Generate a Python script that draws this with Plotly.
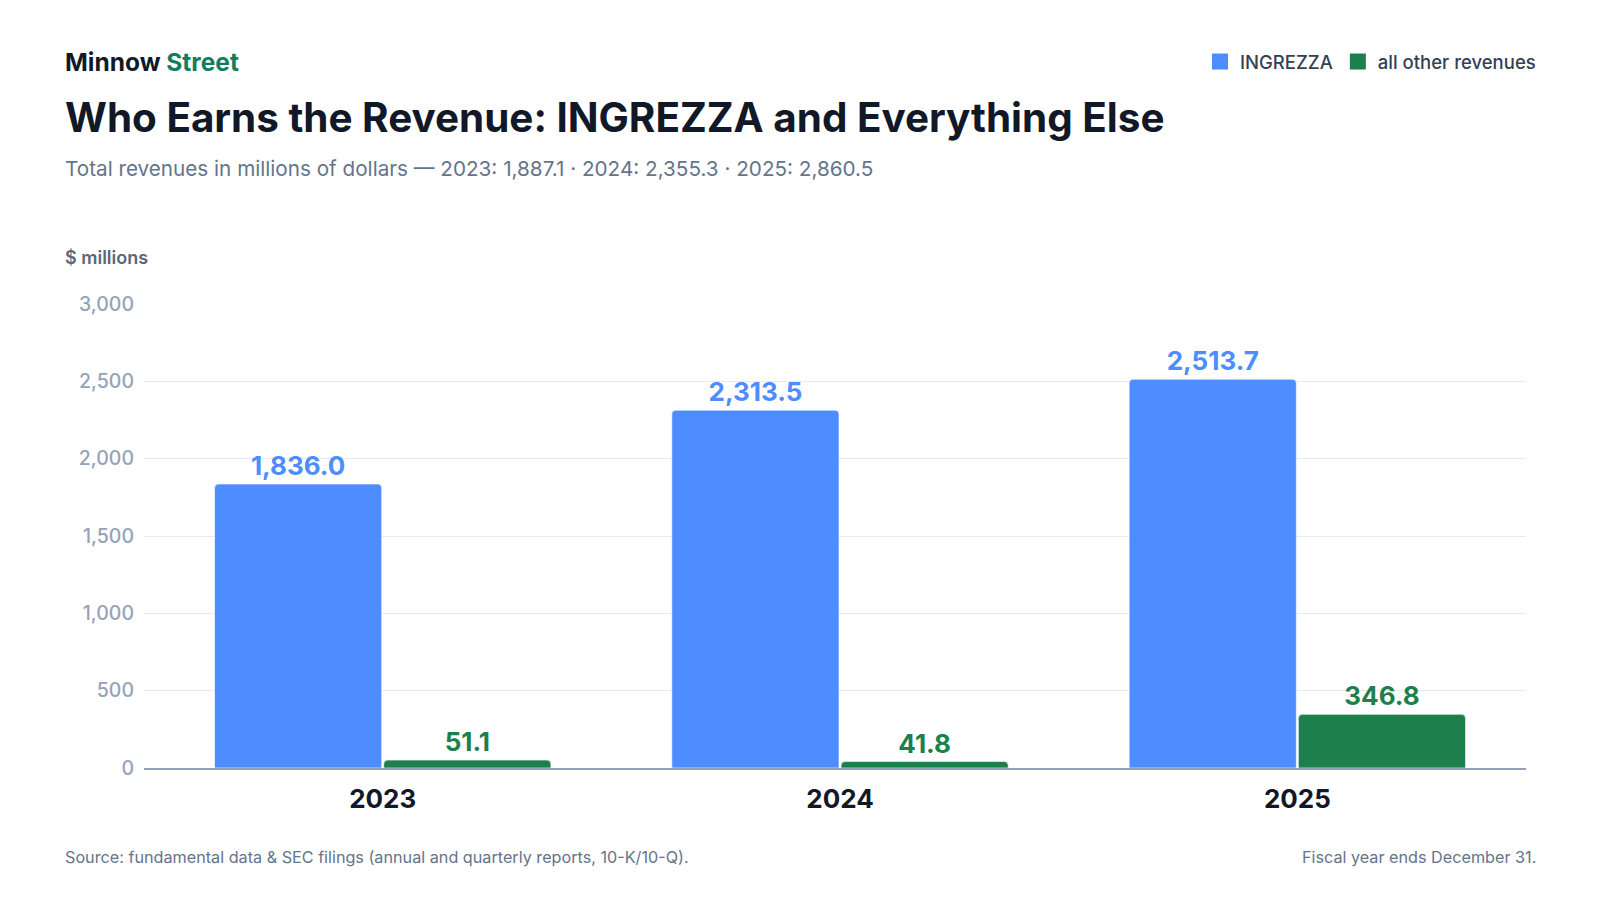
import plotly.graph_objects as go

# values ($ millions)
years = ["2023", "2024", "2025"]
ingrezza = [1836.0, 2313.5, 2513.7]
other_revenues = [51.1, 41.8, 346.8]
y_ticks = [0, 500, 1000, 1500, 2000, 2500, 3000]

BLUE = "#4d8dff"
GREEN = "#1c7f4c"
FONT = "Inter, Roboto, sans-serif"

# plot area in pixels
L, R, T, B = 144, 74, 304, 132
W, H = 1600, 900
plot_h = H - T - B


def py(px_y):
    # page pixel (from top) -> paper y
    return (H - B - px_y) / plot_h


totals = [a + b for a, b in zip(ingrezza, other_revenues)]
subtitle = "Total revenues in millions of dollars — " + " · ".join(
    f"{y}: {t:,.1f}" for y, t in zip(years, totals))

fig = go.Figure()
for name, vals, col in [("INGREZZA", ingrezza, BLUE),
                        ("all other revenues", other_revenues, GREEN)]:
    fig.add_trace(go.Bar(
        x=years, y=vals, name=name, showlegend=False,
        marker=dict(color=col, line=dict(color="rgba(255,255,255,0.6)", width=1)),
        text=[f"{v:,.1f}" for v in vals], textposition="outside",
        textfont=dict(family=FONT, size=26, color=col, weight="bold"),
        cliponaxis=False,
    ))
    # legend entry with a bigger swatch
    fig.add_trace(go.Scatter(
        x=[None], y=[None], mode="markers", name=name,
        marker=dict(symbol="square", size=20, color=col),
    ))

fig.update_layout(
    width=W, height=H,
    margin=dict(l=L, r=R, t=T, b=B, autoexpand=False),
    paper_bgcolor="white", plot_bgcolor="white",
    font=dict(family=FONT),
    barmode="group", bargap=0.26, bargroupgap=0.012, barcornerradius=4,
    showlegend=True,
    legend=dict(orientation="h", x=1541 / W, xanchor="right", xref="container",
                y=py(62), yanchor="middle",
                font=dict(family=FONT, size=18.5, color="#334155", weight=500),
                itemsizing="trace", traceorder="normal", bgcolor="rgba(0,0,0,0)"),
    xaxis=dict(showgrid=False, showline=True, linecolor="#94a3b8", linewidth=2,
               range=[-0.522, 2.5],
               ticks="", tickfont=dict(family=FONT, size=26, color="#111827", weight="bold"),
               ticklabelstandoff=7),
    yaxis=dict(range=[0, 3000], tickvals=y_ticks, tickformat=",",
               showgrid=True, gridcolor="#e8eaee", gridwidth=1, zeroline=False,
               ticks="", tickfont=dict(family=FONT, size=19.5, color="#94a3b8", weight=500),
               ticklabelstandoff=9),
)

anns = [
    dict(text="<b>Minnow <span style='color:#127d5b'>Street</span></b>", y=py(62),
         font=dict(size=24.5, color="#111827")),
    dict(text="<b>Who Earns the Revenue: INGREZZA and Everything Else</b>", y=py(117),
         font=dict(size=40.4, color="#111827")),
    dict(text=subtitle, y=py(168), font=dict(size=20.7, color="#64748b")),
    dict(text="$ millions", y=py(257), font=dict(size=18, color="#5b6678", weight=600)),
    dict(text="Source: fundamental data & SEC filings (annual and quarterly reports, 10-K/10-Q).",
         y=py(857), font=dict(size=16.2, color="#64748b")),
]
for a in anns:
    fig.add_annotation(xref="paper", yref="paper", x=0, xshift=63 - L,
                       xanchor="left", yanchor="middle", showarrow=False, **a)
fig.add_annotation(text="Fiscal year ends December 31.", xref="paper", yref="paper",
                   x=1, xshift=1538 - (W - R), y=py(857), xanchor="right", yanchor="middle",
                   showarrow=False, font=dict(size=16.2, color="#64748b"))

# drop the default body margin so the figure sits at 0,0 in the window
fig.write_html("out.html", config={"displayModeBar": False},
               post_script="document.body.style.margin='0';document.body.style.overflow='hidden';")
